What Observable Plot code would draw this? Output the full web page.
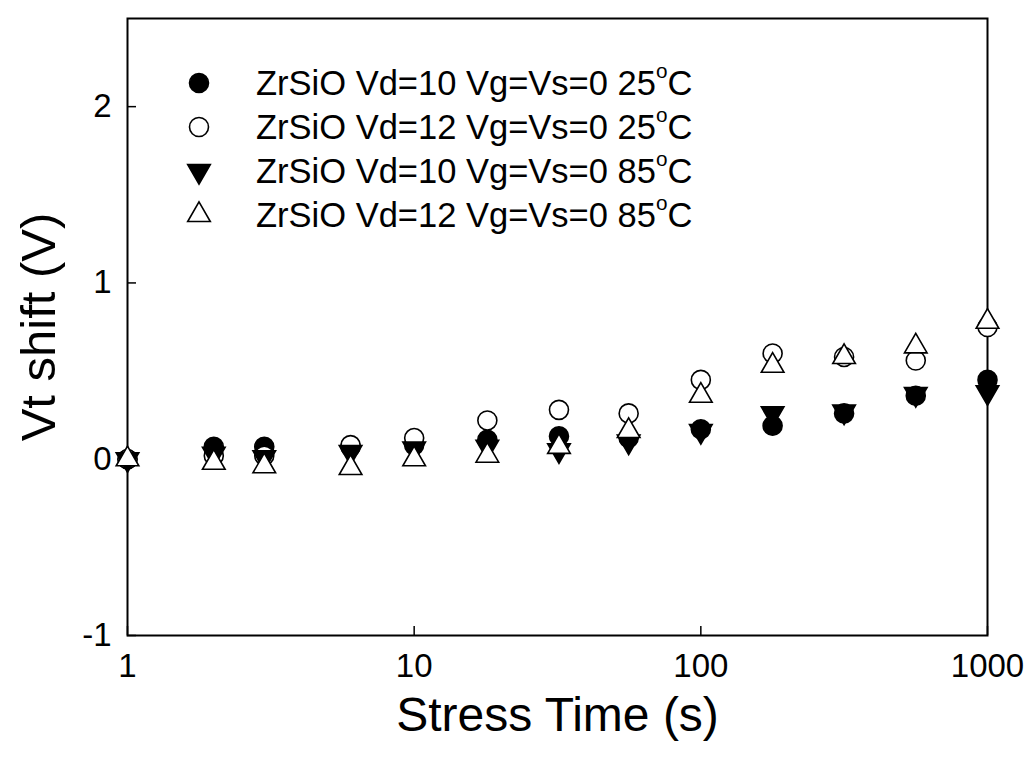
<!DOCTYPE html>
<html>
<head>
<meta charset="utf-8">
<script src="https://cdn.jsdelivr.net/npm/d3@7"></script>
<script src="https://cdn.jsdelivr.net/npm/@observablehq/plot@0.6"></script>
<style>
  body { margin: 0; background: #fff; }
  #chart { position: relative; width: 1026px; height: 765px; font-family: Arial, "Liberation Sans", sans-serif; }
  #legend { position: absolute; left: 0; top: 0; }
  .row { position: absolute; height: 44px; font-size: 34.5px; color: #000; white-space: nowrap; }
  .row svg { position: absolute; overflow: visible; }
  .row span.lbl { position: absolute; top: 0; line-height: 44px; }
  .row sup { font-size: 0.6em; vertical-align: 0.8em; line-height: 0; }
</style>
</head>
<body>
<div id="chart"><div id="legend"></div></div>
<script>
// Stress time (s) at each measurement
const times = [1, 2, 3, 6, 10, 18, 32, 56, 100, 178, 316, 562, 1000];

// Threshold-voltage shift (V) for each stress condition
const vd10_25C = [0, 0.07, 0.07, 0.07, 0.08, 0.11, 0.13, 0.12, 0.17, 0.19, 0.26, 0.36, 0.45];
const vd12_25C = [0, 0.02, 0.02, 0.08, 0.12, 0.22, 0.28, 0.26, 0.45, 0.60, 0.58, 0.56, 0.75];
const vd10_85C = [0, 0.03, 0.01, 0.04, 0.06, 0.07, 0.05, 0.10, 0.16, 0.26, 0.27, 0.37, 0.38];
const vd12_85C = [0, -0.02, -0.04, -0.05, 0.0, 0.02, 0.07, 0.16, 0.36, 0.53, 0.58, 0.64, 0.78];

// Legend labels (the "o" is raised as a degree mark)
const seriesLabels = [
  ["ZrSiO Vd=10 Vg=Vs=0 25", "C"],
  ["ZrSiO Vd=12 Vg=Vs=0 25", "C"],
  ["ZrSiO Vd=10 Vg=Vs=0 85", "C"],
  ["ZrSiO Vd=12 Vg=Vs=0 85", "C"]
];

const xTicks = [1, 10, 100, 1000];
const yTicks = [-1, 0, 1, 2];

const rows = vals => times.map((t, i) => ({t, v: vals[i]}));

const font = 'Arial, "Liberation Sans", sans-serif';
const circleR = 9.5;
const triR = 8.4;

// marker styles, in drawing order
const styles = [
  {symbol: "circle", r: circleR, fill: "black", stroke: "black", rotate: 0},
  {symbol: "circle", r: circleR, fill: "white", stroke: "black", rotate: 0},
  {symbol: "triangle", r: triR, fill: "black", stroke: "black", rotate: 180},
  {symbol: "triangle", r: triR, fill: "white", stroke: "black", rotate: 0}
];
const seriesData = [vd10_25C, vd12_25C, vd10_85C, vd12_85C];

const chart = Plot.plot({
  width: 1026,
  height: 765,
  marginLeft: 127,
  marginRight: 39,
  marginTop: 18,
  marginBottom: 130,
  style: {fontFamily: font, fontSize: "33px", color: "black", background: "white"},
  x: {type: "log", domain: [1, 1000]},
  y: {domain: [-1, 2.5]},
  marks: [
    Plot.frame({stroke: "black", strokeWidth: 2}),
    Plot.axisX({ticks: xTicks, tickFormat: d => String(d), tickSize: -9, tickPadding: 27, strokeWidth: 1.5, label: null, fontSize: 33}),
    Plot.axisY({ticks: yTicks, tickFormat: d => String(d), tickSize: -9, tickPadding: 25, strokeWidth: 1.5, label: null, fontSize: 33}),
    ...seriesData.map((vals, i) => Plot.dot(rows(vals), {
      x: "t", y: "v",
      symbol: styles[i].symbol,
      r: styles[i].r,
      fill: styles[i].fill,
      stroke: styles[i].stroke,
      strokeWidth: 1.6,
      rotate: styles[i].rotate
    })),
    Plot.text(["Stress Time (s)"], {frameAnchor: "bottom", textAnchor: "middle", lineAnchor: "middle", dy: 80, fontSize: 48, fill: "black"}),
    Plot.text(["Vt shift (V)"], {frameAnchor: "left", textAnchor: "middle", lineAnchor: "middle", dx: -88, rotate: -90, fontSize: 49, fill: "black"})
  ]
});

const container = document.getElementById("chart");
container.insertBefore(chart, container.firstChild);

// Legend inside the plot area
const legend = document.getElementById("legend");
const symX = 199, textX = 256, firstY = 83, step = 44;
seriesLabels.forEach((lab, i) => {
  const row = document.createElement("div");
  row.className = "row";
  row.style.left = "0px";
  row.style.top = (firstY + i * step - 22) + "px";
  const s = styles[i];
  const type = s.symbol === "circle" ? d3.symbolCircle : d3.symbolTriangle;
  const size = Math.PI * s.r * s.r;
  const svg = d3.create("svg").attr("width", 1).attr("height", 1)
    .style("left", symX + "px").style("top", "22px");
  svg.append("path")
    .attr("d", d3.symbol(type, size)())
    .attr("transform", `rotate(${s.rotate})`)
    .attr("fill", s.fill).attr("stroke", s.stroke).attr("stroke-width", 1.6);
  row.appendChild(svg.node());
  const span = document.createElement("span");
  span.className = "lbl";
  span.style.left = textX + "px";
  span.innerHTML = `${lab[0]}<sup>o</sup>${lab[1]}`;
  row.appendChild(span);
  legend.appendChild(row);
});
</script>
</body>
</html>
